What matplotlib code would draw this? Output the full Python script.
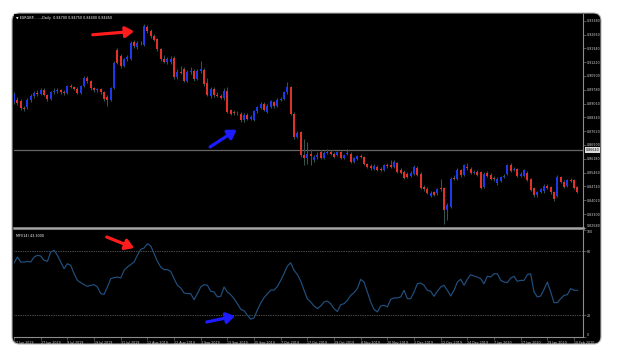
import matplotlib.pyplot as plt
from matplotlib.patches import FancyBboxPatch
from matplotlib.transforms import blended_transform_factory

# EURGBP daily, 17 Jun 2019 .. 11 Feb 2020 (170 bars)
dates = ["17 Jun 2019", "27 Jun 2019", "9 Jul 2019", "19 Jul 2019", "31 Jul 2019",
         "12 Aug 2019", "22 Aug 2019", "3 Sep 2019", "13 Sep 2019", "25 Sep 2019",
         "7 Oct 2019", "17 Oct 2019", "29 Oct 2019", "8 Nov 2019", "20 Nov 2019",
         "2 Dec 2019", "12 Dec 2019", "24 Dec 2019", "7 Jan 2020", "17 Jan 2020",
         "29 Jan 2020", "10 Feb 2020"]

opens = [
    0.8913, 0.8927, 0.8922, 0.8885, 0.8887, 0.8927, 0.8945, 0.8962, 0.8958, 0.8978,
    0.8951, 0.8930, 0.8965, 0.8972, 0.8975, 0.8968, 0.8960, 0.8996, 0.8990, 0.8982,
    0.8963, 0.8996, 0.9040, 0.9025, 0.8985, 0.8976, 0.8980, 0.8965, 0.8940, 0.8925,
    0.8985, 0.9185, 0.9155, 0.9103, 0.9137, 0.9140, 0.9228, 0.9200, 0.9224, 0.9210,
    0.9305, 0.9285, 0.9260, 0.9241, 0.9189, 0.9137, 0.9125, 0.9125, 0.9146, 0.9043,
    0.9072, 0.9085, 0.9025, 0.9072, 0.9077, 0.9034, 0.9077, 0.9082, 0.9015, 0.8948,
    0.8980, 0.8953, 0.8948, 0.8934, 0.8974, 0.8870, 0.8860, 0.8855, 0.8853, 0.8818,
    0.8848, 0.8827, 0.8823, 0.8865, 0.8885, 0.8905, 0.8862, 0.8888, 0.8913, 0.8896,
    0.8927, 0.8931, 0.8965, 0.8990, 0.8853, 0.8733, 0.8757, 0.8638, 0.8622, 0.8645,
    0.8610, 0.8627, 0.8653, 0.8622, 0.8650, 0.8656, 0.8645, 0.8639, 0.8653, 0.8622,
    0.8645, 0.8645, 0.8602, 0.8617, 0.8634, 0.8627, 0.8593, 0.8580, 0.8565, 0.8576,
    0.8565, 0.8558, 0.8584, 0.8587, 0.8576, 0.8595, 0.8560, 0.8550, 0.8541, 0.8529,
    0.8541, 0.8570, 0.8541, 0.8470, 0.8462, 0.8426, 0.8446, 0.8438, 0.8464, 0.8464,
    0.8352, 0.8369, 0.8519, 0.8512, 0.8558, 0.8533, 0.8576, 0.8567, 0.8546, 0.8550,
    0.8550, 0.8472, 0.8546, 0.8535, 0.8520, 0.8490, 0.8500, 0.8525, 0.8541, 0.8584,
    0.8560, 0.8567, 0.8530, 0.8529, 0.8546, 0.8515, 0.8464, 0.8429, 0.8446, 0.8450,
    0.8477, 0.8470, 0.8443, 0.8426, 0.8524, 0.8498, 0.8477, 0.8507, 0.8510, 0.8470]

highs = [
    0.8968, 0.8940, 0.8930, 0.8895, 0.8935, 0.8955, 0.8972, 0.8975, 0.8988, 0.8985,
    0.8958, 0.8972, 0.8985, 0.8985, 0.8982, 0.8975, 0.9002, 0.9008, 0.8998, 0.8990,
    0.9002, 0.9048, 0.9050, 0.9030, 0.8992, 0.8988, 0.8985, 0.8972, 0.8950, 0.8990,
    0.9128, 0.9195, 0.9165, 0.9145, 0.9160, 0.9232, 0.9238, 0.9232, 0.9235, 0.9322,
    0.9315, 0.9295, 0.9270, 0.9248, 0.9195, 0.9160, 0.9150, 0.9155, 0.9155, 0.9085,
    0.9100, 0.9095, 0.9082, 0.9098, 0.9085, 0.9085, 0.9130, 0.9090, 0.9040, 0.8995,
    0.8992, 0.8965, 0.8958, 0.8985, 0.8990, 0.8878, 0.8870, 0.8868, 0.8860, 0.8855,
    0.8858, 0.8845, 0.8872, 0.8895, 0.8915, 0.8912, 0.8902, 0.8925, 0.8922, 0.8935,
    0.8942, 0.8972, 0.9020, 0.9000, 0.8860, 0.8765, 0.8762, 0.8722, 0.8705, 0.8670,
    0.8640, 0.8655, 0.8662, 0.8658, 0.8668, 0.8665, 0.8652, 0.8660, 0.8660, 0.8645,
    0.8670, 0.8652, 0.8628, 0.8640, 0.8642, 0.8632, 0.8598, 0.8590, 0.8590, 0.8585,
    0.8575, 0.8592, 0.8595, 0.8610, 0.8612, 0.8602, 0.8568, 0.8558, 0.8548, 0.8552,
    0.8585, 0.8578, 0.8548, 0.8480, 0.8470, 0.8448, 0.8452, 0.8468, 0.8515, 0.8470,
    0.8385, 0.8522, 0.8535, 0.8570, 0.8566, 0.8592, 0.8595, 0.8575, 0.8560, 0.8558,
    0.8555, 0.8548, 0.8555, 0.8542, 0.8528, 0.8522, 0.8530, 0.8540, 0.8592, 0.8596,
    0.8575, 0.8572, 0.8548, 0.8565, 0.8552, 0.8520, 0.8470, 0.8452, 0.8468, 0.8485,
    0.8484, 0.8476, 0.8450, 0.8532, 0.8530, 0.8505, 0.8512, 0.8518, 0.8515, 0.8475]

lows = [
    0.8905, 0.8900, 0.8872, 0.8868, 0.8878, 0.8915, 0.8935, 0.8945, 0.8950, 0.8945,
    0.8918, 0.8925, 0.8958, 0.8962, 0.8958, 0.8952, 0.8955, 0.8985, 0.8975, 0.8955,
    0.8958, 0.8990, 0.9015, 0.8978, 0.8968, 0.8968, 0.8958, 0.8918, 0.8893, 0.8918,
    0.8980, 0.9110, 0.9090, 0.9095, 0.9128, 0.9135, 0.9198, 0.9192, 0.9212, 0.9205,
    0.9275, 0.9250, 0.9232, 0.9180, 0.9128, 0.9118, 0.9115, 0.9115, 0.9035, 0.9035,
    0.9060, 0.9018, 0.9018, 0.9060, 0.9025, 0.9028, 0.9068, 0.9000, 0.8945, 0.8935,
    0.8940, 0.8938, 0.8928, 0.8925, 0.8855, 0.8845, 0.8848, 0.8845, 0.8808, 0.8810,
    0.8820, 0.8818, 0.8815, 0.8858, 0.8878, 0.8868, 0.8855, 0.8882, 0.8885, 0.8890,
    0.8920, 0.8925, 0.8958, 0.8845, 0.8720, 0.8725, 0.8630, 0.8584, 0.8593, 0.8584,
    0.8600, 0.8618, 0.8615, 0.8615, 0.8642, 0.8638, 0.8622, 0.8632, 0.8615, 0.8615,
    0.8638, 0.8595, 0.8595, 0.8610, 0.8622, 0.8585, 0.8570, 0.8562, 0.8560, 0.8555,
    0.8552, 0.8552, 0.8572, 0.8570, 0.8570, 0.8545, 0.8540, 0.8512, 0.8518, 0.8522,
    0.8535, 0.8528, 0.8458, 0.8450, 0.8432, 0.8418, 0.8422, 0.8430, 0.8452, 0.8277,
    0.8300, 0.8360, 0.8505, 0.8505, 0.8525, 0.8528, 0.8562, 0.8540, 0.8538, 0.8528,
    0.8460, 0.8465, 0.8522, 0.8508, 0.8500, 0.8482, 0.8495, 0.8518, 0.8535, 0.8548,
    0.8552, 0.8522, 0.8522, 0.8522, 0.8500, 0.8448, 0.8420, 0.8420, 0.8438, 0.8442,
    0.8458, 0.8436, 0.8400, 0.8418, 0.8490, 0.8465, 0.8470, 0.8495, 0.8460, 0.8440]

closes = [
    0.8956, 0.8910, 0.8882, 0.8880, 0.8927, 0.8948, 0.8962, 0.8958, 0.8978, 0.8951,
    0.8928, 0.8965, 0.8972, 0.8975, 0.8968, 0.8960, 0.8996, 0.8990, 0.8982, 0.8963,
    0.8996, 0.9037, 0.9025, 0.8985, 0.8975, 0.8980, 0.8965, 0.8930, 0.8925, 0.8985,
    0.9120, 0.9120, 0.9100, 0.9137, 0.9150, 0.9224, 0.9206, 0.9224, 0.9222, 0.9310,
    0.9285, 0.9258, 0.9240, 0.9189, 0.9137, 0.9125, 0.9137, 0.9140, 0.9043, 0.9072,
    0.9068, 0.9025, 0.9072, 0.9075, 0.9034, 0.9075, 0.9085, 0.9008, 0.8951, 0.8982,
    0.8950, 0.8945, 0.8934, 0.8974, 0.8862, 0.8853, 0.8855, 0.8858, 0.8818, 0.8848,
    0.8827, 0.8835, 0.8865, 0.8888, 0.8905, 0.8875, 0.8896, 0.8917, 0.8893, 0.8927,
    0.8932, 0.8965, 0.8990, 0.8853, 0.8732, 0.8755, 0.8639, 0.8622, 0.8645, 0.8635,
    0.8627, 0.8640, 0.8622, 0.8650, 0.8655, 0.8645, 0.8630, 0.8653, 0.8622, 0.8639,
    0.8650, 0.8602, 0.8622, 0.8634, 0.8630, 0.8593, 0.8576, 0.8570, 0.8581, 0.8562,
    0.8560, 0.8584, 0.8580, 0.8576, 0.8602, 0.8550, 0.8546, 0.8519, 0.8524, 0.8546,
    0.8576, 0.8533, 0.8464, 0.8460, 0.8440, 0.8440, 0.8430, 0.8460, 0.8458, 0.8352,
    0.8377, 0.8515, 0.8512, 0.8562, 0.8533, 0.8584, 0.8570, 0.8546, 0.8550, 0.8535,
    0.8467, 0.8541, 0.8529, 0.8515, 0.8512, 0.8515, 0.8524, 0.8530, 0.8584, 0.8553,
    0.8565, 0.8529, 0.8540, 0.8558, 0.8507, 0.8455, 0.8429, 0.8446, 0.8460, 0.8477,
    0.8464, 0.8443, 0.8408, 0.8524, 0.8498, 0.8472, 0.8507, 0.8500, 0.8467, 0.8445]

mfi = [
    69.0, 74.4, 69.7, 69.7, 70.3, 69.7, 74.4, 76.0, 75.3, 71.3,
    70.4, 79.1, 80.6, 75.9, 69.7, 63.5, 68.2, 66.6, 58.8, 52.6,
    50.5, 48.6, 47.0, 48.0, 48.6, 46.4, 40.2, 39.6, 46.4, 54.2,
    55.1, 55.7, 54.8, 62.0, 65.0, 67.3, 69.7, 76.0, 81.6, 82.8,
    86.8, 84.7, 77.5, 70.4, 65.0, 62.6, 62.6, 61.0, 54.2, 48.0,
    45.5, 40.8, 40.2, 40.2, 34.5, 40.2, 46.4, 48.6, 48.0, 42.4,
    41.8, 37.1, 37.7, 46.4, 41.8, 39.2, 35.5, 30.8, 25.6, 24.3,
    20.0, 16.5, 17.5, 25.0, 31.5, 36.5, 40.0, 43.5, 43.5, 47.0,
    52.5, 59.0, 66.0, 69.0, 62.0, 58.0, 52.0, 43.3, 35.5, 32.4,
    28.7, 26.2, 28.7, 32.4, 33.3, 30.8, 26.2, 23.5, 29.9, 30.8,
    34.0, 38.6, 41.1, 44.9, 53.5, 51.0, 41.8, 32.4, 25.6, 23.1,
    28.7, 29.3, 27.8, 34.9, 36.2, 36.2, 37.1, 43.3, 35.5, 35.5,
    41.8, 49.5, 50.1, 48.0, 43.3, 42.4, 37.7, 42.4, 46.4, 48.0,
    43.3, 38.0, 43.3, 51.0, 53.6, 48.0, 53.6, 57.9, 56.7, 55.7,
    54.2, 49.5, 56.4, 55.7, 58.8, 58.8, 52.6, 51.0, 50.5, 54.8,
    56.4, 51.7, 52.6, 52.6, 57.9, 58.8, 41.8, 37.1, 38.0, 44.2,
    51.0, 41.8, 31.8, 31.8, 35.5, 38.6, 39.2, 44.9, 43.3, 43.3]

hline_price = 0.8664
price_ticks = [0.8258 + 0.0072 * k for k in range(16)]
mfi_ticks = [0, 20, 80, 100]

W, H = 624, 355
UP, DOWN, WICK = "#1e38ec", "#e2312b", "#34544f"
TXT, AXC = "#d2d2d2", "#8c8c8c"


def px_box(x0, y0, x1, y1):
    # pixel rectangle (from top-left) -> figure fraction [l, b, w, h]
    return [x0 / W, 1 - y1 / H, (x1 - x0) / W, (y1 - y0) / H]


fig = plt.figure(figsize=(W / 100, H / 100), dpi=100)
fig.patch.set_facecolor("white")

frame = FancyBboxPatch((12 / W, 1 - 344 / H), 589 / W, 331 / H,
                       boxstyle="round,pad=0,rounding_size=0.012",
                       mutation_aspect=W / H, transform=fig.transFigure,
                       facecolor="black", edgecolor="#b4b4b4", lw=0.8, zorder=-5)
fig.patches.append(frame)

ax_p = fig.add_axes(px_box(14, 14, 583, 228))
ax_m = fig.add_axes(px_box(14, 229.6, 583, 336.7))

n = len(closes)
x = list(range(n))
for ax in (ax_p, ax_m):
    ax.set_facecolor("black")
    ax.set_xlim(-0.03, 170.7)
    ax.spines["left"].set_visible(False)
    ax.spines["top"].set_visible(False)
    ax.spines["right"].set_color(AXC)
    ax.spines["right"].set_linewidth(0.8)
    ax.yaxis.tick_right()
    ax.tick_params(axis="y", colors=AXC, labelcolor=TXT, labelsize=2.3,
                   length=2, width=0.4, pad=1)

# --- price panel (candles)
ax_p.vlines(x, lows, highs, color=WICK, lw=0.75, zorder=2)
bottoms = [min(o, c) for o, c in zip(opens, closes)]
heights = [max(abs(c - o), 0.00012) for o, c in zip(opens, closes)]
colors = [UP if c >= o else DOWN for o, c in zip(opens, closes)]
ax_p.bar(x, heights, bottom=bottoms, width=0.62, color=colors, lw=0, zorder=3)
ax_p.set_ylim(0.8257, 0.93734)
ax_p.set_xticks([])
ax_p.set_yticks(price_ticks)
ax_p.set_yticklabels([f"{v:.5f}" for v in price_ticks])
ax_p.get_yticklabels()[0].set_va("bottom")
ax_p.spines["bottom"].set_color("#a4a4a4")
ax_p.spines["bottom"].set_linewidth(1.8)

ax_p.axhline(hline_price, color="#666666", lw=0.9, zorder=1)
bt = blended_transform_factory(ax_p.transAxes, ax_p.transData)
ax_p.text(1.004, hline_price, f"{hline_price:.5f}", transform=bt, fontsize=2.3,
          color="black", va="center", ha="left",
          bbox=dict(facecolor="#dcdcdc", edgecolor="none", pad=0.5))

fig.text(16 / W, 1 - 18 / H,
         f"\u25bc EURGBP.......,Daily  {opens[-1]:.5f} {highs[-1]:.5f} "
         f"{lows[-1]:.5f} {closes[-1]:.5f}",
         fontsize=2.4, color="white", va="center")

# --- MFI panel
ax_m.plot(x, mfi, color="#21507f", lw=0.85, zorder=3)
ax_m.set_ylim(0, 100)
for lvl in (80, 20):
    ax_m.axhline(lvl, color="#9a9a9a", lw=0.5, ls=(0, (1, 1.5)), zorder=1)
ax_m.set_yticks(mfi_ticks)
ax_m.set_yticklabels([str(v) for v in mfi_ticks])
ax_m.get_yticklabels()[-1].set_va("top")
ax_m.get_yticklabels()[0].set_va("bottom")
ax_m.set_xticks(range(0, n, 8))
ax_m.set_xticklabels(dates, ha="left")
ax_m.tick_params(axis="x", colors=AXC, labelcolor=TXT, labelsize=2.3,
                 length=2, width=0.4, pad=1)
ax_m.spines["bottom"].set_color(AXC)
ax_m.spines["bottom"].set_linewidth(0.8)
fig.text(16 / W, 1 - 236 / H, f"MFI(14) {mfi[-1]:.4f}",
         fontsize=2.4, color="white", va="center")

# --- arrows
arrow_kw = dict(arrowstyle="-|>,head_length=0.5,head_width=0.32", lw=2.3,
                mutation_scale=10, shrinkA=0, shrinkB=0)
ax_p.annotate("", xy=(36.0, 0.9283), xytext=(23.6, 0.9265),
              arrowprops=dict(color="#ff1c1c", **arrow_kw), zorder=5)
ax_p.annotate("", xy=(66.8, 0.8770), xytext=(58.8, 0.8680),
              arrowprops=dict(color="#1c1cff", **arrow_kw), zorder=5)
ax_m.annotate("", xy=(36.0, 82.8), xytext=(27.8, 93.1),
              arrowprops=dict(color="#ff1c1c", **arrow_kw), zorder=5)
ax_m.annotate("", xy=(66.3, 19.3), xytext=(57.8, 13.7),
              arrowprops=dict(color="#1c1cff", **arrow_kw), zorder=5)

fig.savefig("out.png", dpi=100, facecolor="white")
